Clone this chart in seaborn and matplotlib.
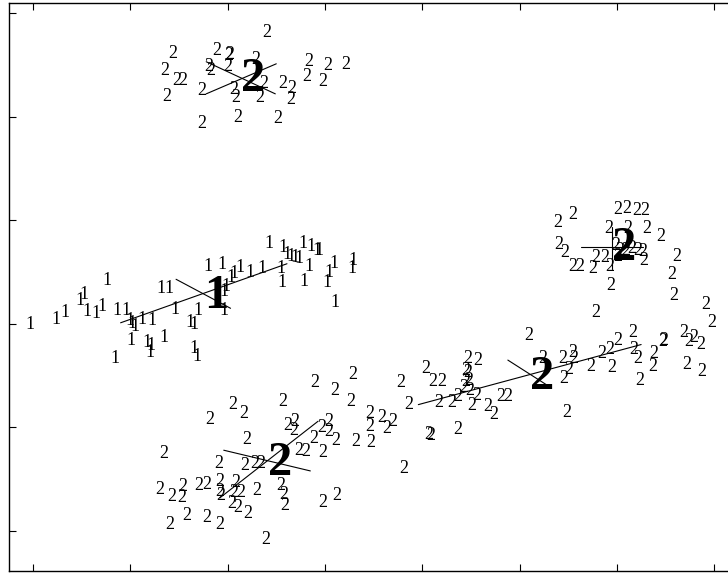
import matplotlib
matplotlib.use('Agg')
import matplotlib.pyplot as plt
import seaborn as sns
import pandas as pd

# observations of group 1
ones_x = [-0.03, 0.24, 0.33, 0.48, 0.52, 0.55, 0.65, 0.71, 0.76, 0.86,
          0.96, 1.00, 1.02, 1.05, 1.12, 1.22, 1.01, 1.17, 1.21, 1.20,
          1.35, 0.84, 1.31, 1.40, 1.46, 1.61, 1.65, 1.70, 1.65, 1.68,
          1.80, 1.94, 1.98, 1.96, 1.96, 2.03, 2.07, 2.13, 2.23, 2.35,
          2.42, 2.57, 2.61, 2.65, 2.69, 2.73, 2.77, 2.86, 2.92, 2.94,
          2.84, 2.55, 2.56, 2.78, 3.04, 3.02, 3.09, 3.29, 3.28, 3.10]
ones_y = [1.99, 2.04, 2.11, 2.23, 2.28, 2.12, 2.10, 2.17, 2.42, 2.13,
          2.13, 2.03, 2.00, 1.97, 2.04, 2.03, 1.84, 1.82, 1.79, 1.72,
          1.87, 1.67, 2.34, 2.34, 2.14, 2.01, 1.99, 2.13, 1.76, 1.68,
          2.55, 2.57, 2.36, 2.31, 2.13, 2.45, 2.49, 2.54, 2.50, 2.53,
          2.78, 2.74, 2.67, 2.65, 2.64, 2.63, 2.78, 2.75, 2.71, 2.71,
          2.55, 2.53, 2.40, 2.41, 2.50, 2.40, 2.58, 2.61, 2.53, 2.21]

# observations of group 2
twos_x = [
    # upper cloud
    2.40, 1.44, 1.35, 1.48, 1.54, 1.37, 1.73, 1.73, 1.81, 1.83,
    1.89, 2.01, 2.02, 2.00, 2.29, 2.06, 2.08, 2.10, 2.33, 2.37,
    2.57, 2.66, 2.65, 2.83, 2.81, 3.03, 2.98, 3.21, 2.52,
    # right cloud
    5.39, 5.55, 5.40, 5.46, 6.01, 6.10, 6.20, 6.29, 5.92, 6.11,
    6.31, 6.45, 5.55, 5.62, 5.75, 5.78, 5.88, 5.93, 5.94, 5.99,
    6.03, 6.09, 6.01, 6.15, 6.21, 6.27, 6.28, 6.62, 6.56, 6.59,
    6.91, 6.98,
    # lower left cloud
    2.90, 3.10, 3.29, 3.27, 2.57, 2.05, 2.17, 1.82, 2.62, 2.69,
    2.68, 2.20, 2.97, 3.04, 3.04, 2.88, 3.11, 2.73, 2.80, 2.98,
    1.34, 1.91, 2.18, 2.28, 2.34, 1.30, 1.43, 1.53, 1.54, 1.70,
    1.79, 1.92, 1.92, 1.93, 2.08, 2.06, 2.13, 2.04, 2.10, 2.21,
    2.30, 2.55, 2.58, 2.59, 1.41, 1.58, 1.79, 1.92, 2.39, 2.98,
    3.12, 3.32,
    # lower middle cloud
    3.78, 4.04, 4.11, 4.20, 4.47, 4.57, 4.45, 4.47, 4.45, 4.48,
    4.43, 4.49, 4.36, 4.30, 4.17, 3.86, 4.56, 4.51, 4.67, 4.74,
    4.81, 4.88, 3.46, 3.58, 3.70, 3.46, 3.64, 3.47, 4.07, 4.09,
    4.37, 3.81, 5.49, 5.09,
    # lower right cloud
    5.78, 5.24, 5.44, 5.55, 5.56, 5.45, 5.51, 5.73, 5.84, 5.93,
    6.01, 6.16, 5.95, 6.17, 6.21, 6.38, 6.37, 6.24, 6.48, 6.47,
    6.69, 6.79, 6.74, 6.86, 6.72, 6.87,
]
twos_y = [
    4.81, 4.61, 4.45, 4.35, 4.35, 4.19, 3.93, 4.25, 4.48, 4.45,
    4.64, 4.59, 4.60, 4.48, 4.55, 4.26, 4.18, 3.99, 4.18, 4.32,
    4.32, 4.27, 4.17, 4.53, 4.39, 4.49, 4.34, 4.50, 3.98,
    2.98, 3.06, 2.77, 2.69, 3.10, 3.11, 3.09, 3.09, 2.92, 2.92,
    2.92, 2.84, 2.55, 2.55, 2.53, 2.64, 2.64, 2.55, 2.37, 2.76,
    2.71, 2.71, 2.65, 2.73, 2.71, 2.70, 2.61, 2.65, 2.48, 2.27,
    2.19, 2.01,
    1.43, 1.36, 1.51, 1.25, 1.25, 1.22, 1.13, 1.08, 1.02, 1.06,
    0.97, 0.88, 1.00, 1.06, 0.96, 0.89, 0.87, 0.78, 0.77, 0.76,
    0.75, 0.65, 0.63, 0.65, 0.65, 0.40, 0.33, 0.32, 0.43, 0.44,
    0.45, 0.48, 0.38, 0.34, 0.47, 0.37, 0.37, 0.27, 0.23, 0.17,
    0.39, 0.44, 0.35, 0.25, 0.06, 0.15, 0.13, 0.06, -0.08, 0.28,
    0.34, 0.86,
    1.43, 1.57, 1.44, 1.44, 1.67, 1.65, 1.55, 1.53, 1.44, 1.45,
    1.39, 1.36, 1.30, 1.24, 1.24, 1.22, 1.31, 1.21, 1.20, 1.12,
    1.30, 1.30, 1.13, 1.10, 1.06, 1.01, 0.99, 0.85, 0.93, 0.92,
    0.98, 0.60, 1.14, 1.89,
    2.11, 1.67, 1.67, 1.72, 1.67, 1.47, 1.56, 1.59, 1.71, 1.75,
    1.84, 1.92, 1.58, 1.75, 1.67, 1.71, 1.59, 1.45, 1.84, 1.83,
    1.92, 1.87, 1.83, 1.80, 1.61, 1.54,
]

# cluster centres (big labels)
center_lab = ['2', '1', '2', '2', '2']
center_x = [2.26, 1.88, 6.07, 2.54, 5.23]
center_y = [4.36, 2.27, 2.73, 0.66, 1.49]

# principal axes of each cluster
seg_x0 = [1.78, 1.78, 0.90, 1.47, 5.63, 5.95, 1.92, 1.96, 3.96, 4.88]
seg_y0 = [4.53, 4.22, 2.01, 2.43, 2.74, 2.93, 0.32, 0.78, 1.22, 1.65]
seg_x1 = [2.49, 2.50, 2.61, 2.03, 6.27, 5.95, 2.93, 2.85, 6.25, 5.28]
seg_y1 = [4.22, 4.51, 2.58, 2.15, 2.74, 2.53, 1.06, 0.58, 1.80, 1.41]

sns.set_theme(style='ticks')
plt.rcParams['font.family'] = ['Liberation Serif', 'DejaVu Serif']

fig = plt.figure(figsize=(7.28, 5.73), dpi=100)
ax = fig.add_axes([9 / 728, 2 / 573, 731 / 728, 568 / 573])

segs = pd.DataFrame({
    'x': [v for pair in zip(seg_x0, seg_x1) for v in pair],
    'y': [v for pair in zip(seg_y0, seg_y1) for v in pair],
    'seg': [i for i in range(len(seg_x0)) for _ in range(2)],
})
sns.lineplot(data=segs, x='x', y='y', units='seg', estimator=None, sort=False,
             color='black', linewidth=0.8, ax=ax, legend=False)

for x, y in zip(ones_x, ones_y):
    ax.text(x, y, '1', ha='center', va='center', fontsize=13, color='black')
for x, y in zip(twos_x, twos_y):
    ax.text(x, y, '2', ha='center', va='center', fontsize=13, color='black')
for lab, x, y in zip(center_lab, center_x, center_y):
    ax.text(x, y, lab, ha='center', va='center', fontsize=35,
            fontweight='bold', color='black')

ax.set_xlim(-0.247, 7.266)
ax.set_ylim(-0.386, 5.097)
ax.set_xticks(range(8))
ax.set_yticks(range(6))
ax.set_xlabel('')
ax.set_ylabel('')
ax.tick_params(direction='in', length=5, width=0.8, color='black',
               top=True, right=True, labelbottom=False, labelleft=False)
for sp in ax.spines.values():
    sp.set_visible(True)
    sp.set_color('black')
    sp.set_linewidth(1.0)

fig.savefig('out.png', dpi=100)
